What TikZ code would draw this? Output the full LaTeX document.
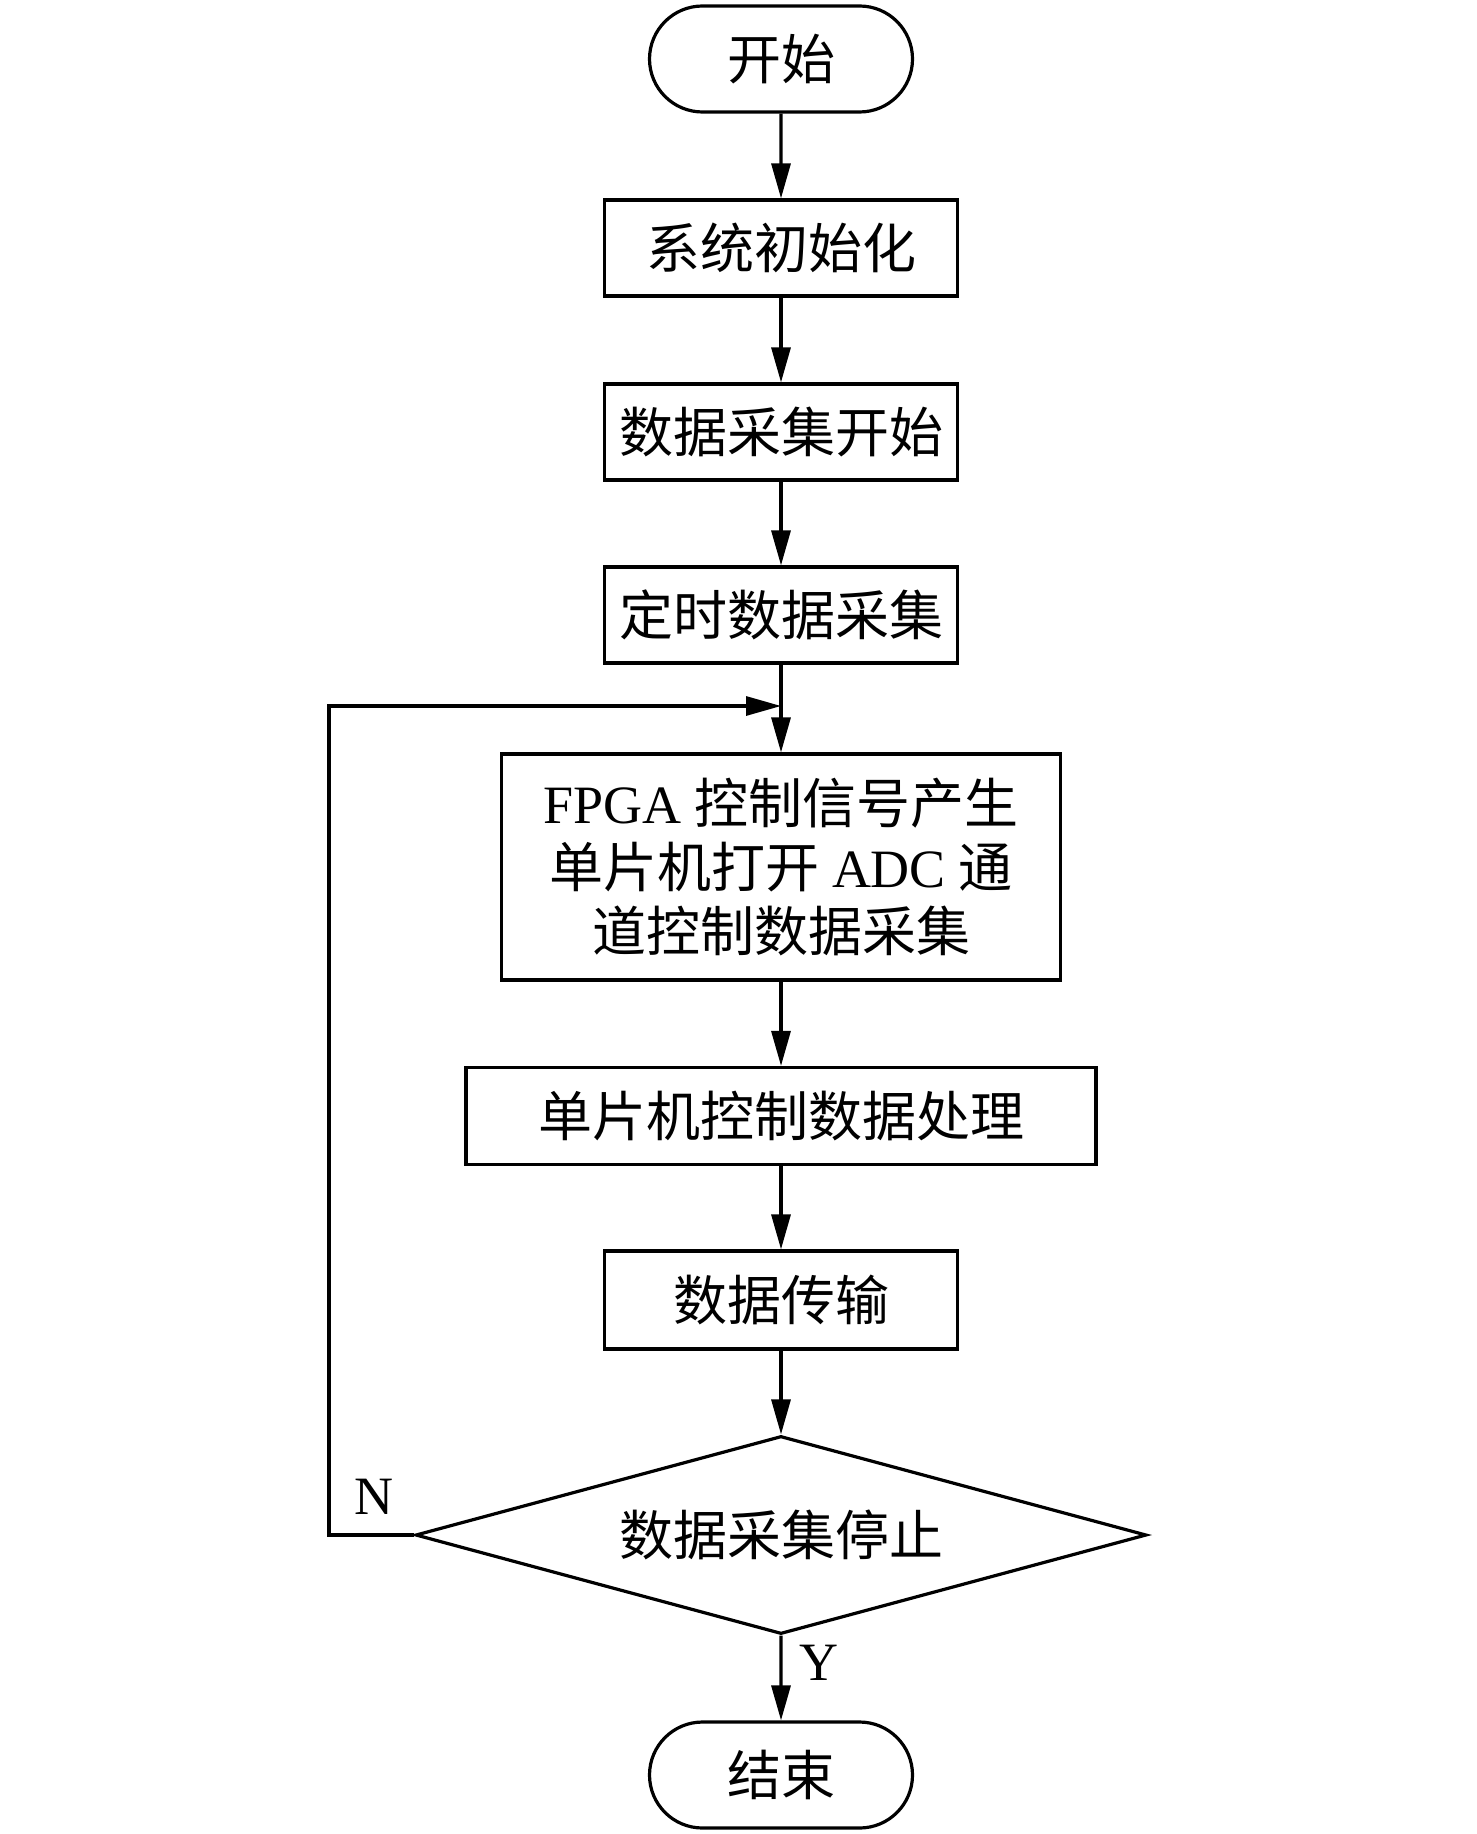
\documentclass[tikz,border=0pt]{standalone}
\usepackage{fontspec}
\setmainfont{Liberation Serif}
\newfontfamily\zhfont{Noto Sans CJK SC}
\usetikzlibrary{shapes.geometric,shapes.misc,arrows.meta}

\begin{document}
\begin{tikzpicture}[x=0.5pt,y=-0.5pt,line width=1.6pt,
    font=\fontsize{27}{32}\selectfont,
    term/.style={draw,rounded rectangle,inner sep=0pt,minimum width=131.5pt,minimum height=53pt,font=\fontsize{27}{32}\selectfont\zhfont},
    box/.style={draw,rectangle,inner sep=0pt,minimum width=176.5pt,minimum height=48pt,align=center,font=\fontsize{27}{32}\selectfont\zhfont},
    decide/.style={draw,diamond,aspect=3.7,inner sep=0pt,minimum width=365.5pt,minimum height=99pt,font=\fontsize{27}{32}\selectfont\zhfont},
    arr/.style={-{Triangle[length=17.5pt,width=9.5pt]}}]

    \useasboundingbox (0,0) rectangle (1476,1834);

    \node[term] (start) at (781,59) {开始};
    \node[box] (init) at (781,248) {系统初始化};
    \node[box] (begin) at (781,432) {数据采集开始};
    \node[box] (timed) at (781,615) {定时数据采集};
    \node[box,minimum width=279.5pt,minimum height=113pt] (fpga) at (781,867)
        {\textrm{FPGA} 控制信号产生\\单片机打开 \textrm{ADC} 通\\道控制数据采集};
    \node[box,minimum width=315pt,minimum height=48.5pt] (proc) at (781,1116) {单片机控制数据处理};
    \node[box,minimum height=49pt] (trans) at (781,1300) {数据传输};
    \node[decide] (dec) at (781,1535) {数据采集停止};
    \node[term] (stop) at (781,1775) {结束};

    \coordinate (merge) at (781,706);
    \coordinate (loop) at (329,1535);

    \draw[arr] (start) -- (init);
    \draw[arr] (init) -- (begin);
    \draw[arr] (begin) -- (timed);
    \draw[arr] (timed) -- (fpga);
    \draw[arr] (fpga) -- (proc);
    \draw[arr] (proc) -- (trans);
    \draw[arr] (trans) -- (dec);
    \draw[arr] (dec) -- (stop);
    \draw[arr] (dec.west) -- (loop) |- (merge);

    \node (lblN) at (374,1497) {N};
    \node (lblY) at (819,1663) {Y};

\end{tikzpicture}
\end{document}
